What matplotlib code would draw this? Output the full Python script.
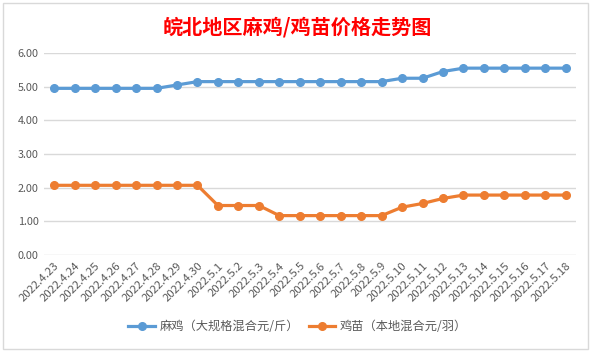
import matplotlib
matplotlib.use("Agg")
import matplotlib.pyplot as plt
from matplotlib.patches import Rectangle

plt.rcParams['font.family'] = ['Noto Sans CJK SC', 'DejaVu Sans']

dates = ['2022.4.23', '2022.4.24', '2022.4.25', '2022.4.26', '2022.4.27', '2022.4.28',
         '2022.4.29', '2022.4.30', '2022.5.1', '2022.5.2', '2022.5.3', '2022.5.4',
         '2022.5.5', '2022.5.6', '2022.5.7', '2022.5.8', '2022.5.9', '2022.5.10',
         '2022.5.11', '2022.5.12', '2022.5.13', '2022.5.14', '2022.5.15', '2022.5.16',
         '2022.5.17', '2022.5.18']
maji = [4.95, 4.95, 4.95, 4.95, 4.95, 4.95, 5.05, 5.15, 5.15, 5.15, 5.15, 5.15, 5.15,
        5.15, 5.15, 5.15, 5.15, 5.25, 5.25, 5.45, 5.55, 5.55, 5.55, 5.55, 5.55, 5.55]
jimiao = [2.07, 2.07, 2.07, 2.07, 2.07, 2.07, 2.07, 2.07, 1.47, 1.47, 1.47, 1.17, 1.17,
          1.17, 1.17, 1.17, 1.17, 1.42, 1.53, 1.68, 1.78, 1.78, 1.78, 1.78, 1.78, 1.78]
yticks = [0, 1, 2, 3, 4, 5, 6]

W, H = 595, 352
fig = plt.figure(figsize=(W / 100, H / 100), dpi=100)
fig.patch.set_facecolor('white')

# chart border
fig.patches.append(Rectangle((3 / W, 3 / H), 585 / W, 346 / H, transform=fig.transFigure,
                             fill=False, edgecolor='#d9d9d9', linewidth=1))

ax = fig.add_axes([44 / W, 1 - 255 / H, (576 - 44) / W, (255 - 53) / H])
x = list(range(len(dates)))
ax.plot(x, maji, color='#5B9BD5', lw=2.3, marker='o', ms=5.5, label='麻鸡（大规格混合元/斤）')
ax.plot(x, jimiao, color='#ED7D31', lw=2.3, marker='o', ms=5.5, label='鸡苗（本地混合元/羽）')

ax.set_xlim(-0.5, len(dates) - 0.5)
ax.set_ylim(0, 6)
ax.set_yticks(yticks)
ax.set_yticklabels([f'{v:.2f}' for v in yticks], fontsize=7.8, color='#595959')
ax.set_xticks(x)
ax.set_xticklabels(dates, rotation=45, ha='right', va='top', rotation_mode='anchor',
                   fontsize=8.2, color='#595959')
ax.tick_params(length=0, pad=4)
ax.grid(axis='y', color='#d9d9d9', lw=1)
ax.set_axisbelow(True)
for s in ax.spines.values():
    s.set_visible(False)

fig.text(0.5, 1 - 27 / H, '皖北地区麻鸡/鸡苗价格走势图', ha='center', va='center',
         fontsize=14.5, fontweight='bold', color='#ff0000')

fig.legend(loc='center', bbox_to_anchor=(0.5, 1 - 327 / H), ncol=2, frameon=False,
           fontsize=8.8, handlelength=2.2, columnspacing=0.8, handletextpad=0.35,
           labelcolor='#595959')

fig.savefig('out.png', dpi=100)
